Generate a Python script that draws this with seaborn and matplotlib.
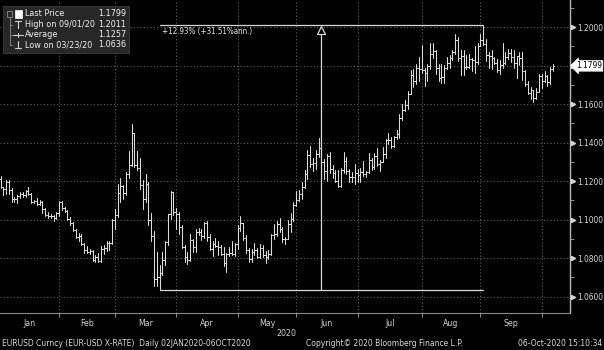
import numpy as np
import pandas as pd
import matplotlib
matplotlib.use("Agg")
import matplotlib.pyplot as plt
from matplotlib.lines import Line2D
from matplotlib.patches import Rectangle
from matplotlib.ticker import FixedLocator, FuncFormatter, MultipleLocator
from matplotlib.font_manager import FontProperties, fontManager
from matplotlib.textpath import TextPath
import seaborn as sns

# ---------------- data (EURUSD daily OHLC, 02JAN2020-06OCT2020) ----------------
opens = [
    1.1213,1.1172,1.1160,1.1196,1.1152,1.1105,1.1105,1.1121,1.1134,1.1127,1.1150,1.1135,1.1090,1.1095,1.1083,1.1093,1.1054,1.1025,1.1019,1.1021,1.1008,1.1033,
    1.1094,1.1059,1.1045,1.1001,1.0981,1.0945,1.0912,1.0915,1.0872,1.0840,1.0830,1.0837,1.0791,1.0806,1.0783,1.0848,1.0854,1.0881,1.0880,1.0997,
    1.1026,1.1136,1.1174,1.1136,1.1237,1.1284,1.1450,1.1284,1.1268,1.1178,1.1106,1.1186,1.0997,1.0916,1.0691,1.0700,1.0721,1.0792,1.0883,1.1029,1.1141,1.1041,
    1.1031,1.0963,1.0858,1.0808,1.0791,1.0893,1.0859,1.0935,1.0937,1.0914,1.0985,1.0911,1.0847,1.0876,1.0863,1.0857,1.0822,1.0774,1.0822,1.0827,1.0823,1.0876,
    1.0954,1.0980,1.0907,1.0840,1.0796,1.0833,1.0841,1.0807,1.0851,1.0816,1.0806,1.0820,1.0920,1.0924,1.0975,1.0951,1.0902,1.0899,1.0979,1.1005,1.1076,
    1.1100,1.1135,1.1170,1.1237,1.1337,1.1289,1.1294,1.1341,1.1373,1.1300,1.1255,1.1333,1.1264,1.1243,1.1203,1.1177,1.1257,1.1307,1.1252,1.1220,1.1219,1.1244,
    1.1234,1.1250,1.1238,1.1245,1.1310,1.1274,1.1333,1.1289,1.1301,1.1343,1.1413,1.1413,1.1383,1.1427,1.1444,1.1526,1.1569,1.1595,1.1655,1.1751,1.1718,1.1790,1.1781,
    1.1778,1.1762,1.1799,1.1860,1.1875,1.1786,1.1737,1.1739,1.1786,1.1812,1.1842,1.1869,1.1931,1.1838,1.1851,1.1795,1.1792,1.1834,1.1831,1.1820,1.1904,
    1.1935,1.1913,1.1853,1.1850,1.1838,1.1816,1.1779,1.1801,1.1813,1.1846,1.1865,1.1846,1.1816,1.1848,1.1838,1.1771,1.1705,1.1659,1.1673,1.1631,1.1665,1.1745,
    1.1722,1.1748,1.1716,1.1780,
]
highs = [
    1.1229,1.1172,1.1206,1.1204,1.1166,1.1120,1.1126,1.1141,1.1146,1.1153,1.1172,1.1137,1.1101,1.1111,1.1101,1.1096,1.1060,1.1041,1.1030,1.1026,1.1038,1.1096,
    1.1096,1.1067,1.1048,1.1014,1.0988,1.0952,1.0933,1.0924,1.0878,1.0865,1.0850,1.0843,1.0817,1.0825,1.0863,1.0869,1.0891,1.0890,1.1004,1.1054,
    1.1185,1.1214,1.1180,1.1246,1.1356,1.1495,1.1452,1.1356,1.1318,1.1206,1.1237,1.1197,1.1037,1.0940,1.0831,1.0766,1.0830,1.0888,1.1030,1.1147,1.1145,1.1063,
    1.1041,1.0970,1.0868,1.0833,1.0926,1.0900,1.0952,1.0955,1.0953,1.0990,1.0991,1.0925,1.0887,1.0904,1.0890,1.0870,1.0856,1.0829,1.0859,1.0890,1.0877,1.0972,
    1.1019,1.0984,1.0919,1.0853,1.0850,1.0877,1.0851,1.0876,1.0866,1.0838,1.0840,1.0925,1.0976,1.0994,1.1009,1.0960,1.0910,1.0996,1.1032,1.1093,1.1147,
    1.1154,1.1194,1.1257,1.1361,1.1384,1.1319,1.1361,1.1422,1.1385,1.1314,1.1341,1.1352,1.1284,1.1259,1.1257,1.1268,1.1349,1.1323,1.1261,1.1249,1.1290,1.1262,
    1.1267,1.1303,1.1255,1.1346,1.1321,1.1346,1.1371,1.1309,1.1375,1.1419,1.1452,1.1429,1.1436,1.1467,1.1547,1.1601,1.1623,1.1666,1.1776,1.1781,1.1806,1.1845,1.1909,
    1.1790,1.1806,1.1916,1.1917,1.1883,1.1806,1.1810,1.1802,1.1843,1.1855,1.1883,1.1966,1.1951,1.1883,1.1883,1.1855,1.1862,1.1842,1.1902,1.1917,1.1965,
    1.2011,1.1937,1.1871,1.1883,1.1847,1.1833,1.1828,1.1917,1.1871,1.1886,1.1888,1.1883,1.1850,1.1872,1.1871,1.1777,1.1720,1.1688,1.1675,1.1682,1.1755,1.1755,
    1.1771,1.1752,1.1794,1.1806,
]
lows = [
    1.1163,1.1128,1.1135,1.1134,1.1092,1.1093,1.1087,1.1113,1.1116,1.1120,1.1130,1.1085,1.1085,1.1076,1.1074,1.1036,1.1018,1.1010,1.1006,1.0992,1.1001,1.1020,
    1.1052,1.1039,1.0997,1.0970,1.0940,1.0905,1.0891,1.0868,1.0828,1.0827,1.0822,1.0786,1.0782,1.0778,1.0779,1.0821,1.0838,1.0841,1.0873,1.0950,
    1.1014,1.1093,1.1107,1.1128,1.1215,1.1281,1.1275,1.1256,1.1160,1.1054,1.1090,1.0972,1.0890,1.0655,1.0654,1.0636,1.0715,1.0766,1.0866,1.1003,1.1022,1.0952,
    1.0923,1.0853,1.0778,1.0769,1.0783,1.0833,1.0830,1.0920,1.0893,1.0906,1.0890,1.0840,1.0813,1.0856,1.0815,1.0818,1.0757,1.0727,1.0813,1.0814,1.0812,1.0845,
    1.0940,1.0893,1.0826,1.0782,1.0782,1.0815,1.0801,1.0800,1.0806,1.0774,1.0796,1.0814,1.0898,1.0916,1.0935,1.0885,1.0871,1.0897,1.0935,1.0993,1.1069,
    1.1097,1.1109,1.1163,1.1211,1.1273,1.1253,1.1261,1.1327,1.1281,1.1213,1.1202,1.1243,1.1216,1.1194,1.1168,1.1169,1.1244,1.1237,1.1196,1.1197,1.1187,1.1195,
    1.1193,1.1227,1.1221,1.1242,1.1260,1.1265,1.1280,1.1253,1.1298,1.1319,1.1393,1.1371,1.1377,1.1418,1.1423,1.1519,1.1563,1.1576,1.1653,1.1690,1.1706,1.1718,1.1762,
    1.1696,1.1720,1.1784,1.1841,1.1755,1.1722,1.1711,1.1710,1.1780,1.1790,1.1829,1.1860,1.1826,1.1753,1.1753,1.1784,1.1788,1.1772,1.1762,1.1810,1.1902,
    1.1908,1.1825,1.1789,1.1780,1.1809,1.1765,1.1755,1.1790,1.1806,1.1835,1.1817,1.1788,1.1737,1.1805,1.1728,1.1694,1.1651,1.1627,1.1612,1.1626,1.1663,1.1685,
    1.1716,1.1696,1.1707,1.1770,
]
closes = [
    1.1172,1.1160,1.1196,1.1152,1.1105,1.1105,1.1121,1.1134,1.1127,1.1150,1.1135,1.1090,1.1095,1.1083,1.1093,1.1054,1.1025,1.1019,1.1021,1.1008,1.1033,1.1094,
    1.1059,1.1045,1.1001,1.0981,1.0945,1.0912,1.0915,1.0872,1.0840,1.0830,1.0837,1.0791,1.0806,1.0783,1.0848,1.0854,1.0881,1.0880,1.0997,1.1026,
    1.1136,1.1174,1.1136,1.1237,1.1284,1.1450,1.1284,1.1268,1.1178,1.1106,1.1186,1.0997,1.0916,1.0691,1.0700,1.0721,1.0792,1.0883,1.1029,1.1141,1.1041,1.1031,
    1.0963,1.0858,1.0808,1.0791,1.0893,1.0859,1.0935,1.0937,1.0914,1.0985,1.0911,1.0847,1.0876,1.0863,1.0857,1.0822,1.0774,1.0822,1.0827,1.0823,1.0876,1.0954,
    1.0980,1.0907,1.0840,1.0796,1.0833,1.0841,1.0807,1.0851,1.0816,1.0806,1.0820,1.0920,1.0924,1.0975,1.0951,1.0902,1.0899,1.0979,1.1005,1.1076,1.1100,
    1.1135,1.1170,1.1237,1.1337,1.1289,1.1294,1.1341,1.1373,1.1300,1.1255,1.1333,1.1264,1.1243,1.1203,1.1177,1.1257,1.1307,1.1252,1.1220,1.1219,1.1244,1.1234,
    1.1250,1.1238,1.1245,1.1310,1.1274,1.1333,1.1289,1.1301,1.1343,1.1413,1.1413,1.1383,1.1427,1.1444,1.1526,1.1569,1.1595,1.1655,1.1751,1.1718,1.1790,1.1781,1.1778,
    1.1762,1.1799,1.1860,1.1875,1.1786,1.1737,1.1739,1.1786,1.1812,1.1842,1.1869,1.1931,1.1838,1.1851,1.1795,1.1792,1.1834,1.1831,1.1820,1.1904,1.1935,
    1.1913,1.1853,1.1850,1.1838,1.1816,1.1779,1.1801,1.1813,1.1846,1.1865,1.1846,1.1816,1.1848,1.1838,1.1771,1.1705,1.1659,1.1673,1.1631,1.1665,1.1745,1.1722,
    1.1748,1.1716,1.1780,1.1799,
]
month_labels = ["Jan", "Feb", "Mar", "Apr", "May", "Jun", "Jul", "Aug", "Sep"]
y_ticks = [1.06, 1.08, 1.10, 1.12, 1.14, 1.16, 1.18, 1.20]
legend_names = ["Last Price", "High on 09/01/20", "Average", "Low on 03/23/20"]
legend_values = ["1.1799", "1.2011", "1.1257", "1.0636"]
last_price = 1.1799
high_val, high_date = 1.2011, "2020-09-01"
low_val, low_date = 1.0636, "2020-03-23"
change_label = "+12.93% (+31.51%ann.)"
footer_left = "EURUSD Curncy (EUR-USD X-RATE)  Daily 02JAN2020-06OCT2020"
footer_mid = "Copyright\u00a9 2020 Bloomberg Finance L.P."
footer_right = "06-Oct-2020 15:10:34"

dates = pd.bdate_range("2020-01-02", "2020-10-06")
n = len(dates)
df = pd.DataFrame({"date": dates, "open": opens, "high": highs,
                   "low": lows, "close": closes})
df["i"] = np.arange(n)

# long-format segments for seaborn (one unit per stroke)
tick = 0.45
rows = []
for r in df.itertuples():
    rows += [(f"hl{r.i}", r.i, r.low), (f"hl{r.i}", r.i, r.high),
             (f"o{r.i}", r.i - tick, r.open), (f"o{r.i}", r.i, r.open),
             (f"c{r.i}", r.i, r.close), (f"c{r.i}", r.i + tick, r.close)]
seg = pd.DataFrame(rows, columns=["unit", "x", "y"])

# ---------------- style / fonts ----------------
sns.set_theme(style="dark")
plt.rcParams["font.family"] = ["Liberation Sans", "DejaVu Sans"]


def pick_narrow():
    prefs = []
    for f in fontManager.ttflist:
        nm = f.name
        path = f.fname.lower()
        isnarrow = ("narrow" in nm.lower() or "condensed" in nm.lower()
                    or "narrow" in path or "condensed" in path
                    or str(f.stretch) in ("condensed", "semi-condensed"))
        if not isnarrow or f.style != "normal" or str(f.weight) not in ("400", "normal", "regular"):
            continue
        if "mono" in path or "serif" in path.replace("sans", ""):
            continue
        rank = 0 if "liberation" in path else (1 if "dejavu" in path else 2)
        prefs.append((rank, f.fname))
    if prefs:
        prefs.sort()
        return FontProperties(fname=prefs[0][1])
    return FontProperties(family=["Liberation Sans", "DejaVu Sans"])


FP = pick_narrow()


def fit_size(text, target_px):
    w = TextPath((0, 0), text, size=10, prop=FP).get_extents().width  # points at size 10
    return 10 * target_px / (w * 100 / 72)


def prop(size):
    p = FP.copy()
    p.set_size(size)
    return p


SZ_AXIS = min(fit_size("1.2000", 25), 8.0)
SZ_LEG = min(fit_size("High on 09/01/20", 69), 8.0)
SZ_FOOT = min(fit_size(footer_left, 250), 8.0)
SZ_ANN = min(fit_size(change_label, 89), 8.0)

W, H = 604, 350
fig = plt.figure(figsize=(W / 100, H / 100), dpi=100, facecolor="black")
AX_R, AX_B = 570, 313
ax = fig.add_axes([0, 1 - AX_B / H, AX_R / W, AX_B / H])
ax.set_facecolor("black")

BAR = "#dcdcdc"
sns.lineplot(data=seg, x="x", y="y", units="unit", estimator=None, sort=False,
             color=BAR, lw=0.75, legend=False, ax=ax, zorder=3)

PXI = 2.79  # pixels per bar
ax.set_xlim((0 - 0.5) / PXI, (AX_R - 0.5) / PXI)
ax.set_ylim(1.0515, 1.2141)
ax.set_xlabel("")
ax.set_ylabel("")

# month boundaries
month_first = df.groupby(df["date"].dt.to_period("M"))["i"].min().values
bounds = [m - 1 for m in month_first[1:]]
edges = [0] + bounds
mids = [(edges[k] + edges[k + 1]) / 2 for k in range(len(month_labels))]

ax.xaxis.set_major_locator(FixedLocator(bounds))
ax.xaxis.set_major_formatter(FuncFormatter(lambda v, p: ""))
ax.xaxis.set_minor_locator(FixedLocator(mids))
ax.xaxis.set_minor_formatter(FuncFormatter(lambda v, p: month_labels[p] if p < len(month_labels) else ""))
ax.tick_params(axis="x", which="major", length=3, width=0.8, color="#8a8a8a", direction="out", bottom=True)
ax.tick_params(axis="x", which="minor", length=0, pad=4, labelcolor="#d0d0d0", bottom=True)
for lab in ax.get_xticklabels(minor=True):
    lab.set_fontproperties(prop(SZ_AXIS * 1.05))

ax.yaxis.tick_right()
ax.yaxis.set_major_locator(FixedLocator(y_ticks))
ax.yaxis.set_major_formatter(FuncFormatter(lambda v, p: "" if abs(v - last_price) < 0.005 else f"{v:.4f}"))
ax.yaxis.set_minor_locator(MultipleLocator(0.01))
ax.tick_params(axis="y", which="major", length=0, pad=5, labelcolor="#d5d5d5", right=True, left=False)
ax.tick_params(axis="y", which="minor", length=3, width=0.8, color="#8a8a8a", direction="out", right=True, left=False)
for lab in ax.get_yticklabels():
    lab.set_fontproperties(prop(SZ_AXIS))

ax.grid(True, which="major", axis="both", color="#5e5e5e", lw=0.8, ls=(0, (1, 2)))
ax.grid(False, which="minor")

for s in ["top", "left"]:
    ax.spines[s].set_visible(False)
ax.spines["right"].set_color("#b8b8b8")
ax.spines["right"].set_linewidth(1.0)
ax.spines["bottom"].set_color("#8a8a8a")
ax.spines["bottom"].set_linewidth(0.8)

# arrow markers for major y ticks
ax.plot([1.0 + 2.5 / AX_R] * len(y_ticks), y_ticks, transform=ax.get_yaxis_transform(),
        ls="none", marker=">", ms=3, color="#d5d5d5", clip_on=False, zorder=5)

# last price box
ax.text(1.0 + 6 / AX_R, last_price, f"{last_price:.4f}", transform=ax.get_yaxis_transform(),
        ha="left", va="center", fontproperties=prop(SZ_AXIS), color="black", zorder=6,
        bbox=dict(boxstyle="larrow,pad=0.1", fc="white", ec="white", lw=0.5))

# high/low range annotation
i_low = int(df.index[df["date"] == pd.Timestamp(low_date)][0])
i_high = int(df.index[df["date"] == pd.Timestamp(high_date)][0])
i_mid = (i_low + i_high) / 2
LN = "#d8d8d8"
ax.plot([i_low, i_high], [high_val, high_val], color=LN, lw=0.9, zorder=4)
ax.plot([i_low, i_high], [low_val, low_val], color=LN, lw=0.9, zorder=4)
ax.plot([i_mid, i_mid], [low_val, 1.1975], color=LN, lw=0.9, zorder=4)
ax.plot([i_mid], [1.1984], marker="^", ms=5.5, mfc="black", mec=LN, mew=0.9, zorder=5)
ax.text(i_low + 1, high_val - 0.0009, change_label, ha="left", va="top",
        fontproperties=prop(SZ_ANN), color="#e8e8e8", zorder=5)

# ---------------- figure-level texts ----------------
def fx(px):
    return px / W


def fy(py):
    return 1 - py / H


fig.text(fx(286), fy(333), "2020", ha="center", va="center", fontproperties=prop(SZ_AXIS * 1.05), color="#d0d0d0")
fig.text(fx(2), fy(344), footer_left, ha="left", va="center", fontproperties=prop(SZ_FOOT), color="#d8d8d8")
fig.text(fx(306), fy(344), footer_mid, ha="left", va="center", fontproperties=prop(SZ_FOOT), color="#d8d8d8")
fig.text(fx(602), fy(344), footer_right, ha="right", va="center", fontproperties=prop(SZ_FOOT), color="#d8d8d8")

# legend box
fig.patches.append(Rectangle((fx(3), fy(53)), fx(129) - fx(3), fy(6) - fy(53),
                             transform=fig.transFigure, fc="#272727", ec="#3c3c3c", lw=0.6, zorder=10))
row_y = [14, 24.5, 34.5, 44.5]
for name, val, yy in zip(legend_names, legend_values, row_y):
    fig.text(fx(25), fy(yy), name, ha="left", va="center", fontproperties=prop(SZ_LEG), color="#f0f0f0", zorder=11)
    fig.text(fx(126), fy(yy), val, ha="right", va="center", fontproperties=prop(SZ_LEG), color="#f0f0f0", zorder=11)


def fline(xs, ys, color="#d0d0d0", lw=0.8):
    fig.lines.append(Line2D([fx(v) for v in xs], [fy(v) for v in ys], transform=fig.transFigure,
                            color=color, lw=lw, zorder=11))


GR = "#8c8c8c"
# tree connectors
fig.patches.append(Rectangle((fx(7), fy(16.5)), fx(12) - fx(7), fy(11.5) - fy(16.5),
                             transform=fig.transFigure, fc="none", ec=GR, lw=0.6, zorder=11))
fline([9.5, 9.5], [16.5, 44.5], GR, 0.6)
for yy in row_y[1:]:
    fline([9.5, 12], [yy, yy], GR, 0.6)
# icons
fig.patches.append(Rectangle((fx(15), fy(17.5)), fx(22) - fx(15), fy(10.5) - fy(17.5),
                             transform=fig.transFigure, fc="white", ec="white", lw=0.5, zorder=11))
fline([14.5, 20.5], [21, 21])
fline([17.5, 17.5], [21, 28])
fline([13, 23], [34.5, 34.5])
fline([17.5, 17.5], [32.5, 36.5])
fline([17.5, 17.5], [41, 47.5])
fline([14.5, 20.5], [47.5, 47.5])

fig.savefig("out.png", dpi=100, facecolor="black")
